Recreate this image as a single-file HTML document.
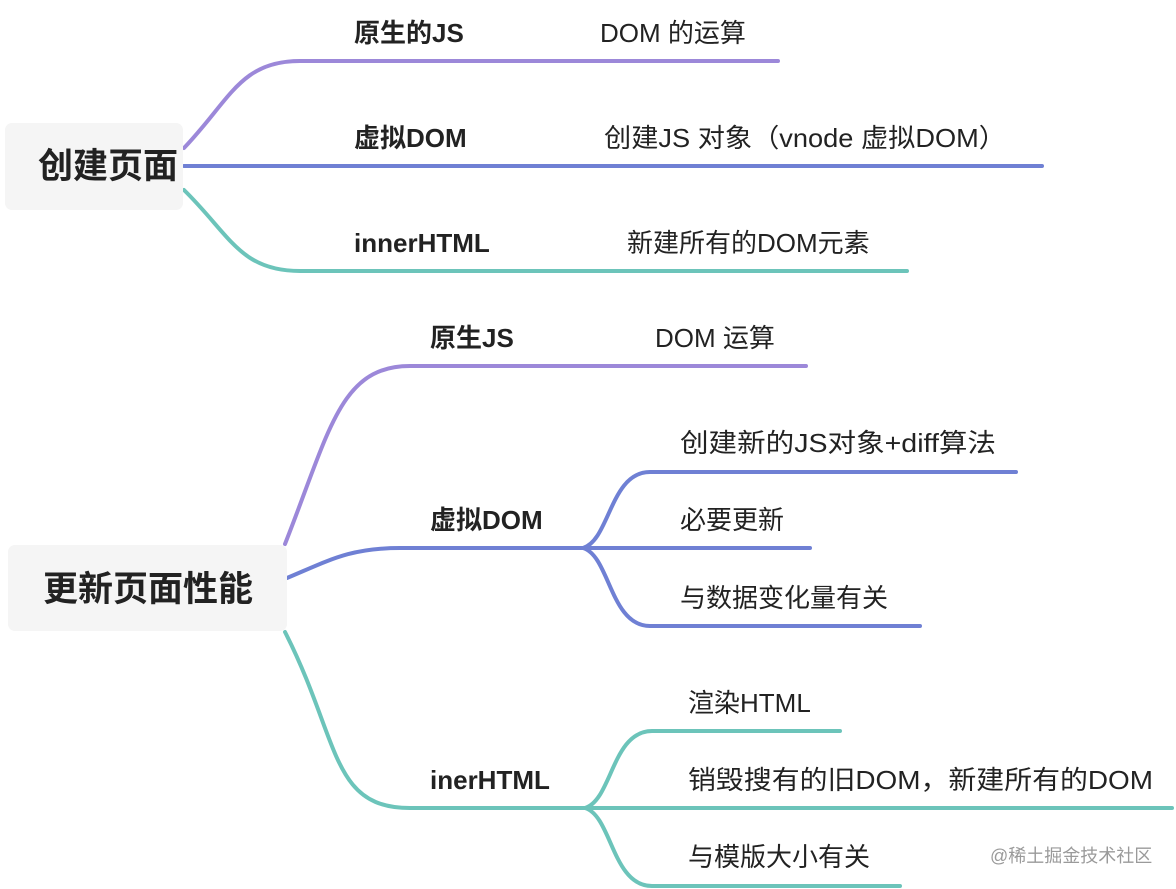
<!DOCTYPE html>
<html><head><meta charset="utf-8"><style>
html,body{margin:0;padding:0;background:#fff;width:1176px;height:889px;overflow:hidden}
svg text{font-family:"Liberation Sans","Noto Sans CJK SC",sans-serif;fill:#222}
.b{font-weight:bold}
</style></head><body>
<svg width="1176" height="889" viewBox="0 0 1176 889" xmlns="http://www.w3.org/2000/svg">
<g fill="none" stroke-width="4" stroke-linecap="round">
<path d="M184 148 C230 100 240 61 300 61 L778 61" stroke="#9c88d9"/>
<path d="M184 166 L1042 166" stroke="#6f80d4"/>
<path d="M184 190 C230 235 240 271 300 271 L907 271" stroke="#6cc4ba"/>
<path d="M285 544 C330 430 340 366 410 366 L806 366" stroke="#9c88d9"/>
<path d="M287 578 C330 560 350 548 400 548 L583 548" stroke="#6f80d4"/>
<path d="M583 548 C610 540 610 472 650 472 L1016 472" stroke="#6f80d4"/>
<path d="M583 548 L810 548" stroke="#6f80d4"/>
<path d="M583 548 C610 556 610 626 650 626 L920 626" stroke="#6f80d4"/>
<path d="M285 632 C340 740 330 808 410 808 L585 808" stroke="#6cc4ba"/>
<path d="M585 808 C612 800 612 731 652 731 L840 731" stroke="#6cc4ba"/>
<path d="M585 808 L1172 808" stroke="#6cc4ba"/>
<path d="M585 808 C612 816 612 886 652 886 L900 886" stroke="#6cc4ba"/>
</g>
<rect x="5" y="123" width="178" height="87" rx="7" fill="#f5f5f5"/>
<rect x="8" y="545" width="279" height="86" rx="7" fill="#f5f5f5"/>
<text x="108" y="178" font-size="35" class="b" text-anchor="middle">创建页面</text>
<text x="148" y="601" font-size="35" class="b" text-anchor="middle">更新页面性能</text>
<g font-size="26">
<text x="354" y="42" class="b">原生的JS</text>
<text x="600" y="42">DOM 的运算</text>
<text x="354" y="147" class="b">虚拟DOM</text>
<text x="604" y="147" textLength="402" lengthAdjust="spacingAndGlyphs">创建JS 对象（vnode 虚拟DOM）</text>
<text x="354" y="252" class="b">innerHTML</text>
<text x="627" y="252">新建所有的DOM元素</text>
<text x="430" y="347" class="b">原生JS</text>
<text x="655" y="347">DOM 运算</text>
<text x="430" y="529" class="b">虚拟DOM</text>
<text x="680" y="452" textLength="316" lengthAdjust="spacingAndGlyphs">创建新的JS对象+diff算法</text>
<text x="680" y="529">必要更新</text>
<text x="680" y="607">与数据变化量有关</text>
<text x="430" y="789" class="b">inerHTML</text>
<text x="688" y="712">渲染HTML</text>
<text x="688" y="789" textLength="465" lengthAdjust="spacingAndGlyphs">销毁搜有的旧DOM，新建所有的DOM</text>
<text x="688" y="866">与模版大小有关</text>
</g>
<text x="990" y="862" font-size="18" style="fill:#9a9a9a">@稀土掘金技术社区</text>
</svg>
</body></html>
